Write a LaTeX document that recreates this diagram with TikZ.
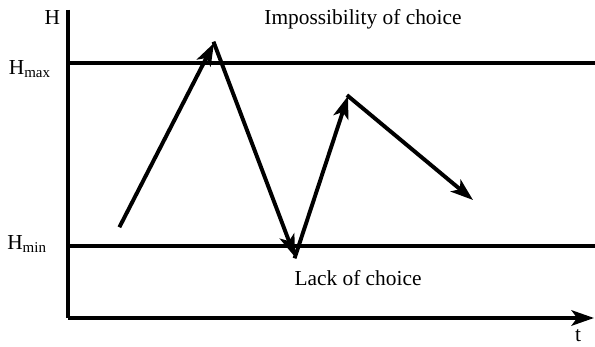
\documentclass[tikz,border=0pt]{standalone}
\usepackage{fontspec}
\setmainfont{Liberation Serif}
\usetikzlibrary{arrows.meta, positioning}

\begin{document}
\begin{tikzpicture}[x=0.025cm, y=-0.025cm, >={Stealth[length=16pt, width=11pt, inset=4pt]},
  font=\fontsize{15.2}{18}\selectfont,
  axis/.style={line width=2.6pt},
  level/.style={line width=2.3pt},
  jump/.style={line width=2.8pt, ->, shorten <=-1pt}]
  \useasboundingbox (0,0) rectangle (595,347);

  % Osy
  \coordinate (origin) at (68,318);
  \coordinate (ytop) at (68,10);
  \coordinate (xend) at (594,318);
  \draw[axis] (ytop) -- (origin);
  \draw[axis, ->] (origin) -- (xend);
  \node[anchor=east] (hlab) at (65,18) {H};
  \node (tlab) at (578,336) {t};

  % Hranice
  \coordinate (hmaxl) at (68,63);
  \coordinate (hmaxr) at (595,63);
  \coordinate (hminl) at (68,246);
  \coordinate (hminr) at (595,246);
  \draw[level] (hmaxl) -- (hmaxr);
  \draw[level] (hminl) -- (hminr);
  \node[anchor=east, inner sep=0pt] (hmax) at (51,69) {H\textsubscript{max}};
  \node[anchor=east, inner sep=0pt] (hmin) at (47,244) {H\textsubscript{min}};

  \node (imposs) at (363,19) {Impossibility of choice};
  \node (lack) at (358,278) {Lack of choice};

  % Trajektorie
  \coordinate (p0) at (120,226);
  \coordinate (p1) at (214,43);
  \coordinate (p2) at (295,257);
  \coordinate (p3) at (348,96);
  \coordinate (p4) at (473,200);
  \draw[jump] (p0) -- (p1);
  \draw[jump] (p1) -- (p2);
  \draw[jump] (p2) -- (p3);
  \draw[jump] (p3) -- (p4);
\end{tikzpicture}
\end{document}
